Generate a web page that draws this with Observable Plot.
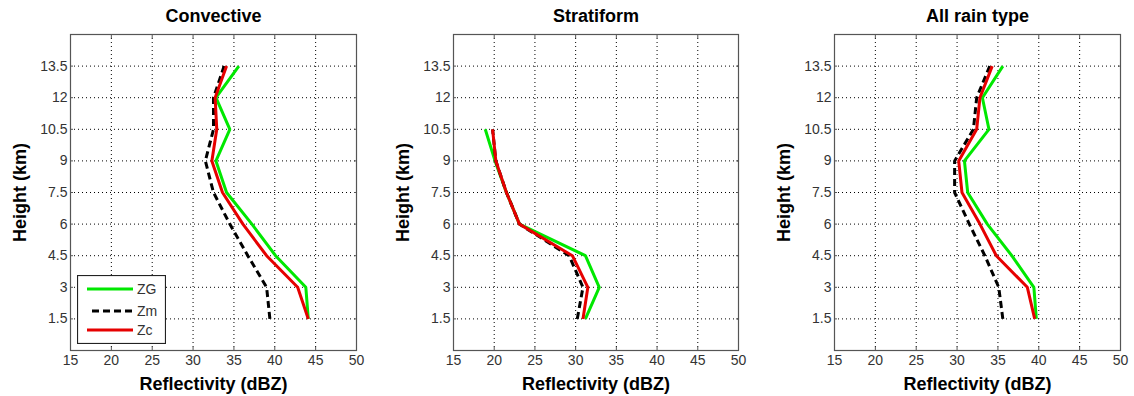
<!DOCTYPE html>
<html><head><meta charset="utf-8">
<script src="https://cdn.jsdelivr.net/npm/d3@7"></script>
<script src="https://cdn.jsdelivr.net/npm/@observablehq/plot@0.6"></script>
<style>
body{margin:0;background:#fff;}
#wrap{position:relative;width:1134px;height:396px;overflow:hidden;font-family:"Liberation Sans",Arial,sans-serif;}
.panel{position:absolute;top:0;}
</style></head><body><div id="wrap"></div>
<script>
// ---- data ----
const xTicks = [15, 20, 25, 30, 35, 40, 45, 50];
const yTicks = [1.5, 3, 4.5, 6, 7.5, 9, 10.5, 12, 13.5];
const seriesNames = ["ZG", "Zm", "Zc"];
const seriesColors = ["#00e800", "#000000", "#e60000"];
const seriesDash = [null, "7,4", null];
const panelTitles = ["Convective", "Stratiform", "All rain type"];

const convHeights = [1.5, 3, 4.5, 6, 7.5, 9, 10.5, 12, 13.5];
const convZG = [44.1, 43.8, 40.1, 37.2, 34.1, 32.8, 34.5, 32.8, 35.6];
const convZm = [39.4, 39.0, 36.7, 34.5, 32.5, 31.5, 32.5, 32.5, 33.8];
const convZc = [44.1, 42.8, 39.0, 36.1, 33.6, 32.3, 32.9, 32.7, 34.1];

const stratHeights = [1.5, 3, 4.5, 6, 7.5, 9, 10.5];
const stratZG = [31.2, 32.9, 31.2, 23.1, 21.5, 20.1, 18.9];
const stratZm = [30.2, 30.9, 29.2, 23.1, 21.5, 20.2, 19.8];
const stratZc = [30.9, 31.5, 29.6, 23.1, 21.5, 20.2, 19.8];

const allHeights = [1.5, 3, 4.5, 6, 7.5, 9, 10.5, 12, 13.5];
const allZG = [39.7, 39.4, 36.7, 33.7, 31.3, 30.9, 33.9, 33.1, 35.6];
const allZm = [35.6, 35.1, 33.4, 31.5, 29.7, 29.7, 32.0, 32.4, 34.0];
const allZc = [39.5, 38.6, 34.8, 32.8, 30.6, 30.2, 32.4, 32.8, 34.3];

// ---- layout ----
const panels = [
  {title: panelTitles[0], heights: convHeights, series: [convZG, convZm, convZc], left: 0, ml: 70, mr: 22, legend: true},
  {title: panelTitles[1], heights: stratHeights, series: [stratZG, stratZm, stratZc], left: 378, ml: 75, mr: 18},
  {title: panelTitles[2], heights: allHeights, series: [allZG, allZm, allZc], left: 756, ml: 78, mr: 14}
];

const wrap = document.getElementById("wrap");
const FONT = '"Liberation Sans", Arial, sans-serif';

for (const p of panels) {
  const lineMarks = seriesNames.map((name, i) => {
    const rows = p.heights.map((h, j) => ({h, z: p.series[i][j]}));
    return Plot.line(rows, {x: "z", y: "h", stroke: seriesColors[i], strokeWidth: 3,
      strokeDasharray: seriesDash[i] || undefined, strokeLinejoin: "miter", strokeLinecap: "butt"});
  });
  const chart = Plot.plot({
    width: 378, height: 396,
    marginLeft: p.ml, marginRight: p.mr, marginTop: 34, marginBottom: 46,
    style: {fontFamily: FONT, color: "#333", background: "#fff"},
    x: {domain: [15, 50], label: null},
    y: {domain: [0, 15], label: null},
    marks: [
      Plot.gridX(xTicks, {stroke: "#000", strokeOpacity: 1, strokeDasharray: "1,3"}),
      Plot.gridY(yTicks, {stroke: "#000", strokeOpacity: 1, strokeDasharray: "1,3"}),
      ...lineMarks,
      Plot.frame({stroke: "#555", strokeWidth: 1.2}),
      Plot.axisX(xTicks, {anchor: "bottom", tickSize: -3, tickPadding: 8, fontSize: 14, tickFormat: d => String(d), label: null, stroke: "#555"}),
      Plot.axisX(xTicks, {anchor: "top", tickSize: -3, tickFormat: () => "", label: null, stroke: "#555"}),
      Plot.axisY(yTicks, {anchor: "left", tickSize: -3, tickPadding: 6, fontSize: 14, tickFormat: d => String(d), label: null, stroke: "#555"}),
      Plot.axisY(yTicks, {anchor: "right", tickSize: -3, tickFormat: () => "", label: null, stroke: "#555"}),
      Plot.text([p.title], {text: d => d, frameAnchor: "top", lineAnchor: "middle", textAnchor: "middle", dy: -18, fontSize: 18, fontWeight: "bold", fill: "#000"}),
      Plot.text(["Reflectivity (dBZ)"], {text: d => d, frameAnchor: "bottom", lineAnchor: "middle", textAnchor: "middle", dy: 34, fontSize: 18, fontWeight: "bold", fill: "#000"}),
      Plot.text(["Height (km)"], {text: d => d, frameAnchor: "left", lineAnchor: "middle", textAnchor: "middle", dx: -50, rotate: -90, fontSize: 18, fontWeight: "bold", fill: "#000"})
    ]
  });
  const div = document.createElement("div");
  div.className = "panel";
  div.style.left = p.left + "px";
  div.appendChild(chart);
  wrap.appendChild(div);

  if (p.legend) {
    const lg = d3.select(div).append("svg")
      .attr("width", 89).attr("height", 69)
      .style("position", "absolute").style("left", "77px").style("top", "275px");
    lg.append("rect").attr("x", 0.5).attr("y", 0.5).attr("width", 88).attr("height", 68)
      .attr("fill", "#fff").attr("stroke", "#222").attr("stroke-width", 1.2);
    const rowY = [14, 36, 55];
    seriesNames.forEach((name, i) => {
      lg.append("line").attr("x1", i === 1 ? 15 : 10).attr("x2", 56).attr("y1", rowY[i]).attr("y2", rowY[i])
        .attr("stroke", seriesColors[i]).attr("stroke-width", 3)
        .attr("stroke-dasharray", seriesDash[i]);
      lg.append("text").attr("x", 60).attr("y", rowY[i]).attr("dy", "0.35em")
        .attr("font-family", FONT).attr("font-size", 14).attr("fill", "#333").text(name);
    });
  }
}
</script></body></html>
